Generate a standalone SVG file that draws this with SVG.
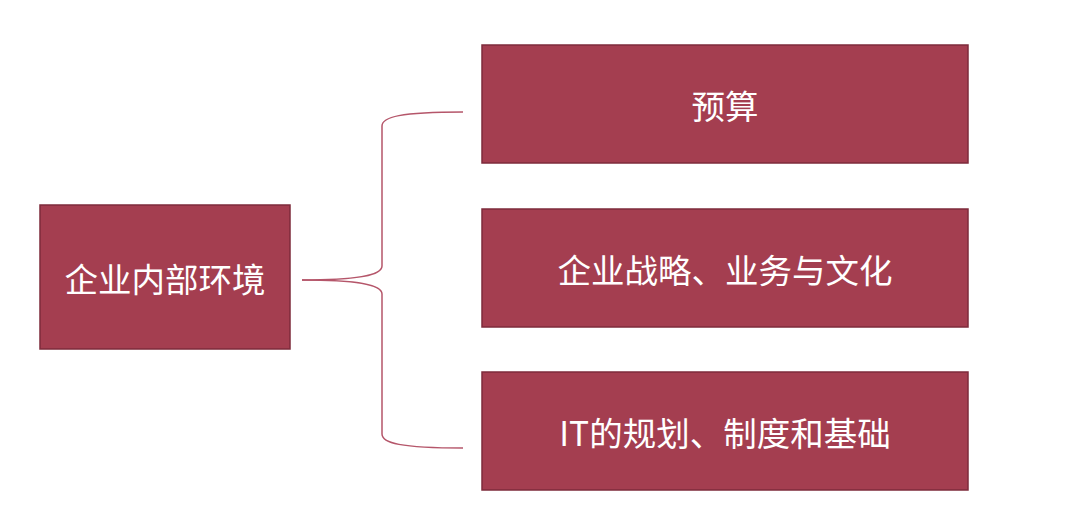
<svg xmlns="http://www.w3.org/2000/svg" width="1080" height="526" viewBox="0 0 1080 526">
<style>
.box{fill:#A43E50;stroke:#7E2B3B;stroke-width:1.5}
.lbl{fill:#ffffff;font-family:"Noto Sans CJK SC","Noto Sans",sans-serif;font-size:33.5px;text-anchor:middle;dominant-baseline:central}
.brace{fill:none;stroke:#B5566A;stroke-width:1.5}
</style>
<rect width="1080" height="526" fill="#ffffff"/>
<g id="connectors">
<path class="brace" d="M302,280 C360,280 382,275 382,266 L382,126 C382,117 400,112 463,112"/>
<path class="brace" d="M302,280 C360,280 382,285 382,294 L382,434 C382,443 400,448 463,448"/>
</g>
<g id="root">
<rect class="box" x="40" y="205" width="250" height="144"/>
<text class="lbl" x="165" y="277">企业内部环境</text>
</g>
<g id="n1">
<rect class="box" x="482" y="45" width="486" height="118"/>
<text class="lbl" x="725" y="104">预算</text>
</g>
<g id="n2">
<rect class="box" x="482" y="209" width="486" height="118"/>
<text class="lbl" x="725" y="268">企业战略、业务与文化</text>
</g>
<g id="n3">
<rect class="box" x="482" y="372" width="486" height="118"/>
<text class="lbl" x="725" y="431">IT的规划、制度和基础</text>
</g>
</svg>
